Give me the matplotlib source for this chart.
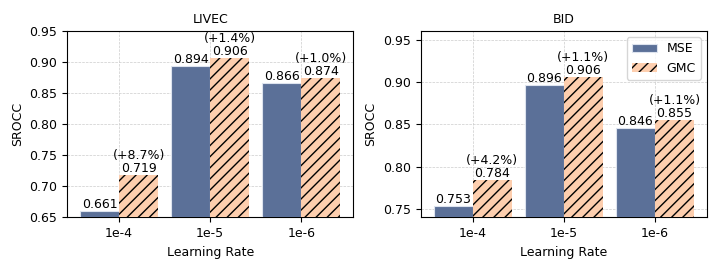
import matplotlib
matplotlib.use("Agg")
import matplotlib.pyplot as plt
import numpy as np

lrs = ["1e-4", "1e-5", "1e-6"]

livec_mse = [0.661, 0.894, 0.866]
livec_gmc = [0.719, 0.906, 0.874]
livec_gain = ["+8.7%", "+1.4%", "+1.0%"]

bid_mse = [0.753, 0.896, 0.846]
bid_gmc = [0.784, 0.906, 0.855]
bid_gain = ["+4.2%", "+1.1%", "+1.1%"]

plt.rcParams['font.size'] = 9
plt.rcParams['hatch.linewidth'] = 1.0

mse_color = '#5b7098'
gmc_color = '#fdceae'


def draw(ax, title, mse, gmc, gain, ylim, yticks, legend=False):
    x = np.arange(len(lrs))
    w = 0.43
    b1 = ax.bar(x - w/2, mse, w, color=mse_color, edgecolor='#dde3ee', linewidth=0.8, label='MSE', zorder=3)
    b2 = ax.bar(x + w/2, gmc, w, color=gmc_color, edgecolor='black', linewidth=0, hatch='///', label='GMC', zorder=3)
    for r, v in zip(b1, mse):
        ax.text(r.get_x() + r.get_width()/2, v, '%.3f' % v, ha='center', va='bottom')
    for r, v, g in zip(b2, gmc, gain):
        ax.text(r.get_x() + r.get_width()/2, v, '(%s)\n%.3f' % (g, v), ha='center', va='bottom',
                linespacing=1.0)
    ax.set_xticks(x)
    ax.set_xticklabels(lrs)
    ax.set_ylim(*ylim)
    ax.set_yticks(yticks)
    ax.set_ylabel('SROCC')
    ax.set_xlabel('Learning Rate')
    ax.set_title(title, fontsize=9)
    ax.grid(True, linestyle='--', linewidth=0.5, color='#cccccc', zorder=0)
    if legend:
        ax.legend(loc='upper right')


fig, (ax1, ax2) = plt.subplots(1, 2, figsize=(7.2, 2.7), dpi=100)
draw(ax1, 'LIVEC', livec_mse, livec_gmc, livec_gain, (0.65, 0.95),
     [0.65, 0.70, 0.75, 0.80, 0.85, 0.90, 0.95])
draw(ax2, 'BID', bid_mse, bid_gmc, bid_gain, (0.74, 0.96),
     [0.75, 0.80, 0.85, 0.90, 0.95], legend=True)
fig.subplots_adjust(left=0.093, right=0.982, top=0.885, bottom=0.195, wspace=0.235)
fig.savefig('out.png', dpi=100)
